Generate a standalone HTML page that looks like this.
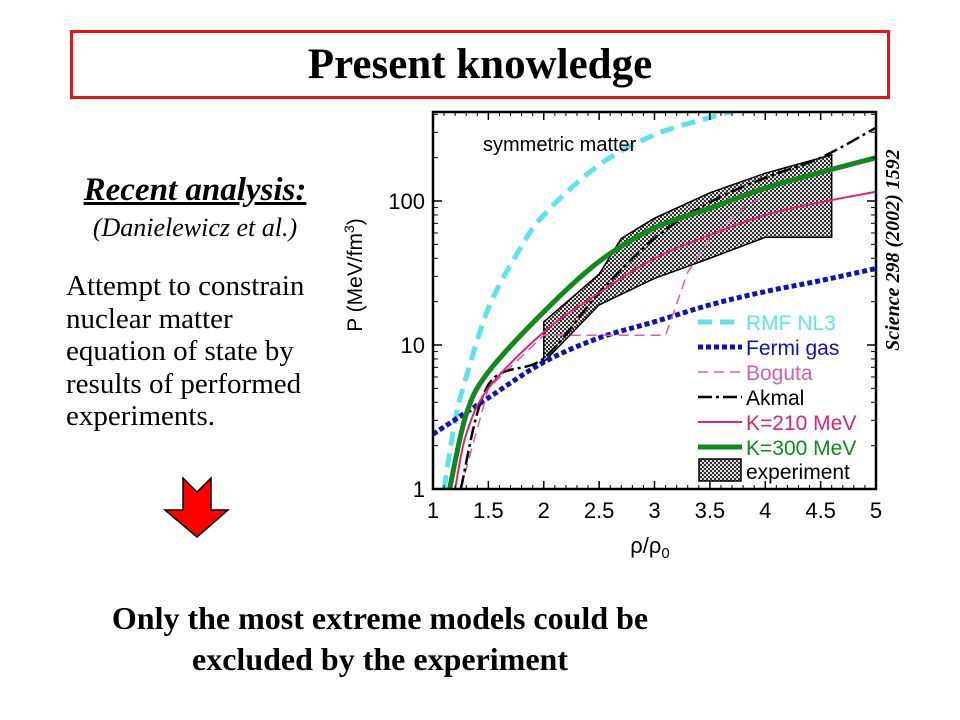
<!DOCTYPE html>
<html><head><meta charset="utf-8">
<style>
body{margin:0;background:#fff;width:960px;height:720px;overflow:hidden;position:relative;font-family:"Liberation Serif",serif;}
.abs{position:absolute;}
</style></head>
<body>
<div class="abs" style="left:70px;top:30px;width:814px;height:63px;border:3px solid #e8141a;"></div>
<div class="abs" style="left:70px;top:38px;width:820px;text-align:center;font-weight:bold;font-size:43px;line-height:54px;">Present knowledge</div>

<div class="abs" style="left:45px;top:170px;width:300px;text-align:center;font-weight:bold;font-style:italic;font-size:33px;line-height:40px;text-decoration:underline;">Recent analysis:</div>
<div class="abs" style="left:45px;top:212px;width:300px;text-align:center;font-style:italic;font-size:26px;line-height:32px;">(Danielewicz et al.)</div>
<div class="abs" style="left:66px;top:270px;width:300px;font-size:29px;line-height:32.5px;white-space:nowrap;">Attempt to constrain<br>nuclear matter<br>equation of state by<br>results of performed<br>experiments.</div>

<svg class="abs" style="left:160px;top:474px" width="75" height="68">
<polygon points="5,36 23,36 23,4 37,18 51,4 51,36 68,36 37,63" fill="#f00" stroke="#000" stroke-width="1.5"/>
</svg>

<div class="abs" style="left:40px;top:598px;width:680px;text-align:center;font-weight:bold;font-size:32px;line-height:41px;white-space:nowrap;">Only the most extreme models could be<br>excluded by the experiment</div>

<div class="abs" style="left:893px;top:250px;width:260px;height:22px;line-height:22px;transform:translate(-130px,-11px) rotate(-90deg);text-align:center;font-weight:bold;font-style:italic;font-size:20px;white-space:nowrap;">Science 298 (2002) 1592</div>

<svg id="chart" class="abs" style="left:0;top:0" width="960" height="720">
<defs>
<pattern id="hatch" width="4" height="4" patternUnits="userSpaceOnUse">
<rect width="4" height="4" fill="#ddd"/><rect width="2" height="2" fill="#333"/><rect x="2" y="2" width="2" height="2" fill="#333"/>
</pattern>
<clipPath id="clip"><rect x="433" y="112" width="443" height="376"/></clipPath>
</defs>
<g id="plot"></g>
</svg>

<script>
const xTicks=[1,1.5,2,2.5,3,3.5,4,4.5,5];
const xTickLabels=["1","1.5","2","2.5","3","3.5","4","4.5","5"];
const yTicks=[1,10,100];
const yTickLabels=["1","10","100"];
const rmfX=[1.1,1.2,1.3,1.5,1.75,2,2.5,3,3.5,3.8];
const rmfP=[1,3,6,18,42,80,178,288,380,440];
const fermiX=[1,1.5,2,2.5,3,3.5,4,4.5,5];
const fermiP=[2.4,4.3,7.6,11.2,14.5,19,23.5,28,34];
const bogutaX=[1.25,1.5,2,3.1,3.3,3.5,3.8,4];
const bogutaP=[1,5,11.7,11.7,32,55,89,110];
const akmalX=[1.25,1.5,2,2.5,3,3.5,4,4.5,5];
const akmalP=[1,5.3,8.1,23,55,98,145,200,323];
const k210X=[1.2,1.3,1.5,2,2.5,3,3.5,4,4.5,5];
const k210P=[1,2.4,5,12.3,23,40,58,80,98,116];
const k300X=[1.15,1.3,1.5,2,2.5,3,3.5,4,4.5,5];
const k300P=[1,3.3,6.5,17,38,65,89,123,158,200];
const expUpperX=[2,2.5,2.7,3,3.5,4,4.6];
const expUpperP=[14.5,31,55,76,114,156,209];
const expLowerX=[2,2.5,3,3.5,4,4.6];
const expLowerP=[7.6,19,29,40,56,56];

const NS='http://www.w3.org/2000/svg';
const X0=433,X1=876,Y0=489,DEC=144;
function sx(v){return X0+(v-1)*(X1-X0)/4;}
function sy(p){return Y0-Math.log10(p)*DEC;}
const g=document.getElementById('plot');
function mk(tag,attrs,parent){const e=document.createElementNS(NS,tag);for(const k in attrs)e.setAttribute(k,attrs[k]);(parent||g).appendChild(e);return e;}
function pts(xs,ps){return xs.map((x,i)=>sx(x).toFixed(1)+','+sy(ps[i]).toFixed(1)).join(' ');}
function smooth(xs,ps){
 const P=xs.map((x,i)=>[sx(x),sy(ps[i])]);
 let d='M'+P[0][0].toFixed(1)+','+P[0][1].toFixed(1);
 for(let i=0;i<P.length-1;i++){
  const p0=P[Math.max(0,i-1)],p1=P[i],p2=P[i+1],p3=P[Math.min(P.length-1,i+2)];
  const c1=[p1[0]+(p2[0]-p0[0])/6,p1[1]+(p2[1]-p0[1])/6];
  const c2=[p2[0]-(p3[0]-p1[0])/6,p2[1]-(p3[1]-p1[1])/6];
  d+=' C'+c1[0].toFixed(1)+','+c1[1].toFixed(1)+' '+c2[0].toFixed(1)+','+c2[1].toFixed(1)+' '+p2[0].toFixed(1)+','+p2[1].toFixed(1);
 }
 return d;
}

const clipG=mk('g',{'clip-path':'url(#clip)'});
const band=mk('polygon',{points:pts(expUpperX,expUpperP)+' '+pts(expLowerX.slice().reverse(),expLowerP.slice().reverse()),fill:'url(#hatch)',stroke:'#000','stroke-width':1.5},clipG);


const series=[
 ['rmf-nl3-line',rmfX,rmfP,'#5fe3e8',5,'14,8',true],
 ['fermi-gas-line',fermiX,fermiP,'#1010c0',5,'5,3',true],
 ['boguta-line',bogutaX,bogutaP,'#d060b0',1.5,'10,6',false],
 ['akmal-line',akmalX,akmalP,'#000',2.5,'14,4,3,4',true],
 ['k210-line',k210X,k210P,'#e0207a',2,'',true],
 ['k300-line',k300X,k300P,'#12881e',5,'',true]
];
series.forEach(s=>{
 const d=s[6]?smooth(s[1],s[2]):'M'+pts(s[1],s[2]).replace(/ /g,' L');
 const l=mk('path',{d:d,fill:'none',stroke:s[3],'stroke-width':s[4],'stroke-dasharray':s[5],'stroke-linejoin':'round'},clipG);
 
 
});
const fr=mk('rect',{x:X0,y:112,width:X1-X0,height:Y0-112,fill:'none',stroke:'#000','stroke-width':2.5});


xTicks.forEach((v,i)=>{
 mk('line',{x1:sx(v),x2:sx(v),y1:Y0,y2:Y0-8,stroke:'#000','stroke-width':1.5});
 mk('line',{x1:sx(v),x2:sx(v),y1:112,y2:120,stroke:'#000','stroke-width':1.5});
 const t=mk('text',{x:sx(v),y:Y0+29,'text-anchor':'middle','font-family':'Liberation Sans, sans-serif','font-size':22});
 t.textContent=xTickLabels[i];
 
 
 if(v<5)for(let k=1;k<5;k++){const m=sx(v+k*0.1);mk('line',{x1:m,x2:m,y1:Y0,y2:Y0-4,stroke:'#000'});mk('line',{x1:m,x2:m,y1:112,y2:116,stroke:'#000'});}
});
yTicks.forEach((v,i)=>{
 mk('line',{x1:X0,x2:X0+9,y1:sy(v),y2:sy(v),stroke:'#000','stroke-width':1.5});
 mk('line',{x1:X1,x2:X1-9,y1:sy(v),y2:sy(v),stroke:'#000','stroke-width':1.5});
 const t=mk('text',{x:X0-8,y:sy(v)+8,'text-anchor':'end','font-family':'Liberation Sans, sans-serif','font-size':22});
 t.textContent=yTickLabels[i];
 
 
});
for(let d=0;d<3;d++)for(let k=2;k<10;k++){const p=k*Math.pow(10,d);const y=sy(p);if(y<112)continue;mk('line',{x1:X0,x2:X0+5,y1:y,y2:y,stroke:'#000'});mk('line',{x1:X1,x2:X1-5,y1:y,y2:y,stroke:'#000'});}
const yt=mk('text',{transform:'translate(362,275) rotate(-90)','text-anchor':'middle','font-family':'Liberation Sans, sans-serif','font-size':21});
yt.innerHTML='P (MeV/fm<tspan dy="-8" font-size="14">3</tspan><tspan dy="8">)</tspan>';


const xt=mk('text',{x:650,y:553,'text-anchor':'middle','font-family':'Liberation Sans, sans-serif','font-size':22});
xt.innerHTML='ρ/ρ<tspan dy="5" font-size="15">0</tspan>';


const an=mk('text',{x:483,y:151,'font-family':'Liberation Sans, sans-serif','font-size':20});
an.textContent='symmetric matter';


const leg=[['RMF NL3','#5fe3e8',series[0]],['Fermi gas','#1010c0',series[1]],['Boguta','#d060b0',series[2]],['Akmal','#000',series[3]],['K=210 MeV','#e0207a',series[4]],['K=300 MeV','#12881e',series[5]]];
leg.forEach((e,i)=>{
 const y=322+i*25;
 const lg=mk('g',{});
 
 
 mk('line',{x1:698,x2:742,y1:y,y2:y,stroke:e[2][3],'stroke-width':e[2][4],'stroke-dasharray':e[2][5]},lg);
 const t=mk('text',{x:746,y:y+8,'font-family':'Liberation Sans, sans-serif','font-size':21,fill:e[1]},lg);
 t.textContent=e[0];
});
const lg=mk('g',{});


mk('rect',{x:699,y:459,width:42,height:22,fill:'url(#hatch)',stroke:'#000','stroke-width':1.5},lg);
const et=mk('text',{x:746,y:479,'font-family':'Liberation Sans, sans-serif','font-size':21},lg);
et.textContent='experiment';
</script>
</body></html>
